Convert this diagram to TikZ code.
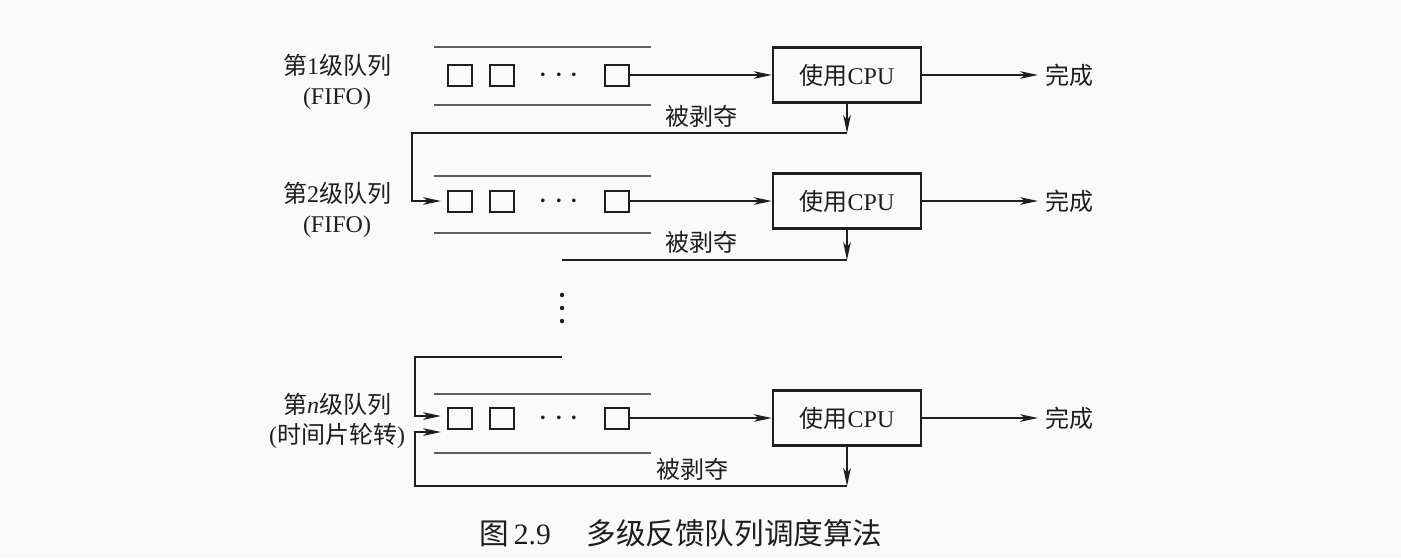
\documentclass[tikz,border=0pt]{standalone}
\usepackage{fontspec}
\setmainfont{Liberation Serif}
\newfontfamily\cjk{Noto Sans CJK SC}
\usetikzlibrary{arrows.meta, positioning}
\definecolor{cBg}  {RGB}{250,250,250}
\definecolor{cInk} {RGB}{ 30, 30, 30}
\definecolor{cLine}{RGB}{ 95, 95, 95}

\begin{document}
\begin{tikzpicture}[
  x=0.5pt, y=-0.5pt,
  color=cInk,
  %% small job square in a queue
  job/.style={
    draw, line width=1.0pt, minimum width=12pt, minimum height=10.5pt,
    inner sep=0pt
  },
  %% processor box
  cpu/.style={
    draw, line width=1.2pt, minimum width=74pt, minimum height=27.5pt,
    inner sep=0pt, font=\fontsize{12}{14}\selectfont
  },
  %% thin rails of a queue
  rail/.style={line width=0.6pt, cLine},
  link/.style={line width=0.8pt},
  arr/.style={-{Stealth[length=9pt,width=3.8pt,inset=2.5pt]}},
  ann/.style={font=\fontsize{12}{15}\selectfont, align=center},
  gap/.style={font=\fontsize{16}{16}\selectfont},
]

%% ── Page ─────────────────────────────────────────────────────────────────────
\path[use as bounding box, fill=cBg] (0,0) rectangle (1401,559);

\def\yA{75}    % row 1
\def\yB{201}   % row 2
\def\yN{418}   % row n

%% ── Row 1 ────────────────────────────────────────────────────────────────────
\node[ann] (lblA) at (337,82) {{\cjk 第}1{\cjk 级队列}\\(FIFO)};
\draw[rail] (434,47)  -- (651,47);
\draw[rail] (434,105) -- (651,105);
\node[job] (a1) at (460,\yA) {};
\node[job] (a2) at (502,\yA) {};
\node[gap] (adots) at (559,\yA+1) {$\cdots$};
\node[job] (a3) at (617,\yA) {};
\node[cpu] (cpuA) at (847,\yA) {{\cjk 使用}CPU};
\node[ann, anchor=west] (doneA) at (1038,\yA) {\cjk 完成};
\node[ann] (preA) at (701,116) {\cjk 被剥夺};

\draw[link, arr] (a3) -- (cpuA);
\draw[link, arr] (cpuA) -- (doneA);

%% ── Row 2 ────────────────────────────────────────────────────────────────────
\node[ann] (lblB) at (337,210) {{\cjk 第}2{\cjk 级队列}\\(FIFO)};
\draw[rail] (434,176) -- (651,176);
\draw[rail] (434,233) -- (651,233);
\node[job] (b1) at (460,\yB) {};
\node[job] (b2) at (502,\yB) {};
\node[gap] (bdots) at (559,\yB+1) {$\cdots$};
\node[job] (b3) at (617,\yB) {};
\node[cpu] (cpuB) at (847,\yB) {{\cjk 使用}CPU};
\node[ann, anchor=west] (doneB) at (1038,\yB) {\cjk 完成};
\node[ann] (preB) at (701,242) {\cjk 被剥夺};

\draw[link, arr] (b3) -- (cpuB);
\draw[link, arr] (cpuB) -- (doneB);

%% preempted from row 1 -> back of row 2
\coordinate (fbA)   at (847,133);
\coordinate (bendA) at (412,133);
\draw[link, arr] (cpuA) -- (fbA);
\draw[link, arr, shorten >=3pt] (fbA) -- (bendA) |- (b1);

%% preempted from row 2 -> on down
\coordinate (fbB)  at (847,260);
\coordinate (endB) at (562,260);
\draw[link, arr] (cpuB) -- (fbB);
\draw[link] (fbB) -- (endB);

%% ── Gap ──────────────────────────────────────────────────────────────────────
\fill (562,295) circle (1.1pt);
\fill (562,308) circle (1.1pt);
\fill (562,321) circle (1.1pt);

%% ── Row n ────────────────────────────────────────────────────────────────────
\node[ann] (lblN) at (337,421) {{\cjk 第}\textit{n}{\cjk 级队列}\\({\cjk 时间片轮转})};
\draw[rail] (434,394) -- (651,394);
\draw[rail] (434,453) -- (651,453);
\node[job] (n1) at (460,\yN) {};
\node[job] (n2) at (502,\yN) {};
\node[gap] (ndots) at (559,\yN+1) {$\cdots$};
\node[job] (n3) at (617,\yN) {};
\node[cpu] (cpuN) at (847,\yN) {{\cjk 使用}CPU};
\node[ann, anchor=west] (doneN) at (1038,\yN) {\cjk 完成};
\node[ann] (preN) at (692,469) {\cjk 被剥夺};

\draw[link, arr] (n3) -- (cpuN);
\draw[link, arr] (cpuN) -- (doneN);

%% from the level above
\coordinate (topN)  at (562,357);
\coordinate (bendN) at (415,357);
\draw[link, arr, shorten >=3pt] (topN) -- (bendN) |- ([yshift=1pt]n1.west);

%% round robin: back to the tail of row n
\coordinate (fbN)    at (847,486);
\coordinate (bendN2) at (415,486);
\draw[link, arr] (cpuN) -- (fbN);
\draw[link, arr, shorten >=3pt] (fbN) -- (bendN2) |- ([yshift=-7pt]n1.west);

%% ── Caption ──────────────────────────────────────────────────────────────────
\node[font=\fontsize{14.8}{16}\selectfont, anchor=west, inner sep=0pt] (cap)
  at (479,533) {{\cjk 图}\,2.9\hspace{1.2em}{\cjk 多级反馈队列调度算法}};

\end{tikzpicture}
\end{document}
